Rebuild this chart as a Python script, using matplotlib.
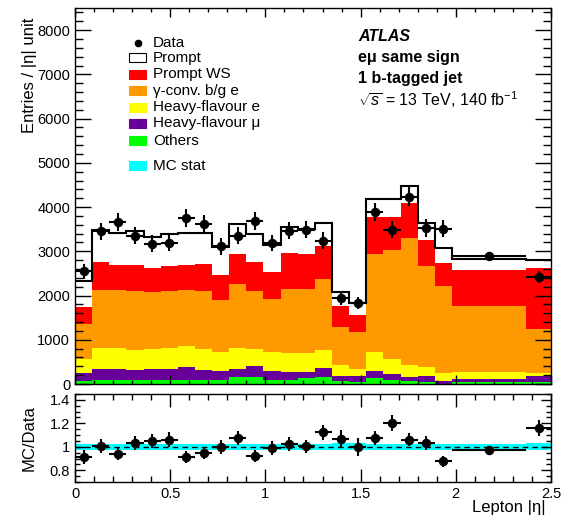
import matplotlib
matplotlib.use('Agg')
from matplotlib import pyplot as plt
from matplotlib.patches import Rectangle
from matplotlib.ticker import MultipleLocator, FuncFormatter
import numpy as np

plt.rcParams['font.family'] = ['Liberation Sans', 'DejaVu Sans']
plt.rcParams['mathtext.fontset'] = 'custom'
plt.rcParams['mathtext.rm'] = 'Liberation Sans'
plt.rcParams['mathtext.it'] = 'Liberation Sans:italic'
plt.rcParams['mathtext.bf'] = 'Liberation Sans:bold'

# bin edges in lepton |eta|
edges = [0, 0.09, 0.18, 0.27, 0.36, 0.45, 0.54, 0.63, 0.72, 0.81, 0.90, 0.99, 1.08,
         1.17, 1.26, 1.35, 1.44, 1.53, 1.62, 1.71, 1.80, 1.89, 1.98, 2.37, 2.5]

# stacked backgrounds (entries / |eta| unit), bottom to top
others = [75, 80, 90, 85, 85, 90, 95, 90, 80, 150, 165, 90, 90, 128, 150, 75, 55, 128, 90, 75, 55, 10, 45, 45]
hf_mu = [167, 260, 257, 232, 247, 250, 283, 227, 222, 182, 243, 212, 189, 151, 205, 114, 119, 167, 137, 91, 121, 65, 70, 125]
hf_e = [317, 468, 461, 453, 454, 468, 490, 476, 416, 476, 378, 431, 431, 416, 415, 241, 158, 438, 339, 264, 217, 182, 149, 87]
gconv = [793, 1322, 1322, 1322, 1283, 1299, 1262, 1299, 1170, 1458, 1321, 1193, 1435, 1455, 1602, 869, 854, 2213, 2471, 2871, 2281, 1964, 1488, 989]
prompt_ws = [378, 619, 551, 605, 552, 551, 567, 627, 567, 680, 642, 605, 816, 796, 740, 469, 378, 823, 732, 793, 589, 513, 816, 1375]
prompt = [600, 731, 739, 763, 709, 722, 723, 701, 645, 664, 635, 619, 589, 554, 529, 301, 264, 423, 423, 393, 378, 340, 257, 174]

data = [2545, 3452, 3655, 3354, 3172, 3187, 3754, 3618, 3112, 3354, 3678, 3187, 3467, 3490, 3240, 1941, 1828, 3890, 3490, 4230, 3528, 3512, 2900, 2410]
data_err = [170, 195, 200, 190, 190, 190, 205, 200, 185, 195, 200, 190, 195, 195, 190, 145, 140, 210, 195, 215, 200, 195, 85, 135]

# relative MC stat uncertainty
mc_stat = [0.028, 0.028, 0.028, 0.028, 0.028, 0.028, 0.028, 0.028, 0.028, 0.028, 0.028, 0.028, 0.028, 0.028,
           0.028, 0.03, 0.03, 0.028, 0.028, 0.028, 0.028, 0.028, 0.02, 0.03]

labels = ['Data', 'Prompt', 'Prompt WS', 'γ-conv. b/g e', 'Heavy-flavour e', 'Heavy-flavour μ', 'Others', 'MC stat']
colors = ['white', '#ff0000', '#ff9900', '#ffff00', '#660099', '#00ff00']

edges = np.array(edges)
centers = 0.5 * (edges[1:] + edges[:-1])
halfw = 0.5 * (edges[1:] - edges[:-1])
data = np.array(data, dtype=float)
data_err = np.array(data_err, dtype=float)

fig = plt.figure(figsize=(5.61, 5.2), dpi=100)
W, H = 561.0, 520.0
ax = fig.add_axes([75 / W, 1 - 384 / H, 476 / W, 376 / H])
rax = fig.add_axes([75 / W, 1 - 482 / H, 476 / W, 88 / H])

# stack
comps = [others, hf_mu, hf_e, gconv, prompt_ws, prompt]
comp_cols = ['#00ff00', '#660099', '#ffff00', '#ff9900', '#ff0000', 'white']
base = np.zeros(len(data))
for vals, c in zip(comps, comp_cols):
    top = base + np.array(vals)
    ax.stairs(top, edges, baseline=base, fill=True, color=c, lw=0)
    base = top
mc = base
ax.stairs(mc, edges, baseline=None, color='black', lw=1.5)

ax.errorbar(centers, data, yerr=data_err, xerr=halfw, fmt='o', color='black',
            ms=5.8, elinewidth=1.5, capsize=0, zorder=5)

ax.set_xlim(0, 2.5)
ax.set_ylim(0, 8500)
ax.xaxis.set_major_locator(MultipleLocator(0.5))
ax.xaxis.set_minor_locator(MultipleLocator(0.1))
ax.yaxis.set_major_locator(MultipleLocator(1000))
ax.yaxis.set_minor_locator(MultipleLocator(200))
ax.tick_params(which='both', direction='in', top=True, right=True, labelbottom=False, labelsize=10.5)
ax.tick_params(axis='y', which='major', length=11.5, width=1)
ax.tick_params(axis='y', which='minor', length=5.8, width=1)
ax.tick_params(axis='x', which='major', length=6.5, width=1)
ax.tick_params(axis='x', which='minor', length=3.2, width=1)
ax.set_ylabel('Entries / |η| unit', fontsize=12, loc='top')
ax.yaxis.set_label_coords(-0.08, (384 - 18) / 376)

# legend drawn by hand
lx0, lx1, ltx = (129 - 75) / 476, (146 - 75) / 476, (153 - 75) / 476
rows = [43, 57.7, 74, 90.7, 107, 123, 140.7, 165.7]
bh = 9 / 376
for i, (lab, py) in enumerate(zip(labels, rows)):
    yy = (384 - py) / 376
    if i == 0:
        ax.plot([(lx0 + lx1) / 2], [yy], 'o', color='black', ms=4.5, transform=ax.transAxes, clip_on=False)
    else:
        fc = colors[i - 1] if i < 7 else '#00ffff'
        ec = 'black' if i == 1 else fc
        ax.add_patch(Rectangle((lx0, yy - bh / 2), lx1 - lx0, bh, transform=ax.transAxes,
                               facecolor=fc, edgecolor=ec, lw=0.8))
    ax.text(ltx, yy, lab, transform=ax.transAxes, fontsize=11, va='center', ha='left')

tx = (358 - 75) / 476
ax.text(tx, (384 - 36.7) / 376, 'ATLAS', transform=ax.transAxes, fontsize=11.5,
        fontweight='bold', fontstyle='italic', va='center')
ax.text(tx, (384 - 57.7) / 376, 'eμ same sign', transform=ax.transAxes, fontsize=11.5,
        fontweight='bold', va='center')
ax.text(tx, (384 - 78) / 376, '1 b-tagged jet', transform=ax.transAxes, fontsize=11.5,
        fontweight='bold', va='center')
ax.text(tx, (384 - 100) / 376, r'$\sqrt{s}$ = 13 TeV, 140 fb$^{-1}$', transform=ax.transAxes,
        fontsize=11.5, va='center')

# ratio panel
ratio = mc / data
ratio_err = mc * data_err / data ** 2
stat = np.array(mc_stat)
rax.stairs(1 + stat, edges, baseline=1 - stat, fill=True, color='#00ffff', lw=0)
rax.axhline(1, ls='--', color='black', lw=1, dashes=(4, 3))
rax.errorbar(centers, ratio, yerr=ratio_err, xerr=halfw, fmt='o', color='black',
             ms=5.8, elinewidth=1.5, capsize=0, zorder=5)
rax.set_xlim(0, 2.5)
rax.set_ylim(0.7, 1.45)
rax.xaxis.set_major_locator(MultipleLocator(0.5))
rax.xaxis.set_minor_locator(MultipleLocator(0.1))
rax.yaxis.set_major_locator(MultipleLocator(0.2))
rax.yaxis.set_minor_locator(MultipleLocator(0.05))
fmt = FuncFormatter(lambda v, p: '%g' % round(v, 3))
rax.xaxis.set_major_formatter(fmt)
rax.yaxis.set_major_formatter(fmt)
rax.tick_params(which='both', direction='in', top=True, right=True, labelsize=10.5)
rax.tick_params(axis='y', which='major', length=7.2, width=1)
rax.tick_params(axis='y', which='minor', length=3.6, width=1)
rax.tick_params(axis='x', which='major', length=9.4, width=1)
rax.tick_params(axis='x', which='minor', length=4.3, width=1)
rax.set_ylabel('MC/Data', fontsize=12)
rax.set_xlabel('Lepton |η|', fontsize=12, loc='right', labelpad=2)
rax.yaxis.set_label_coords(-0.08, 0.5)
rax.xaxis.set_label_coords((546 - 75) / 476, -0.2)

for a in (ax, rax):
    for s in a.spines.values():
        s.set_linewidth(1)

fig.savefig('out.png', dpi=100)
